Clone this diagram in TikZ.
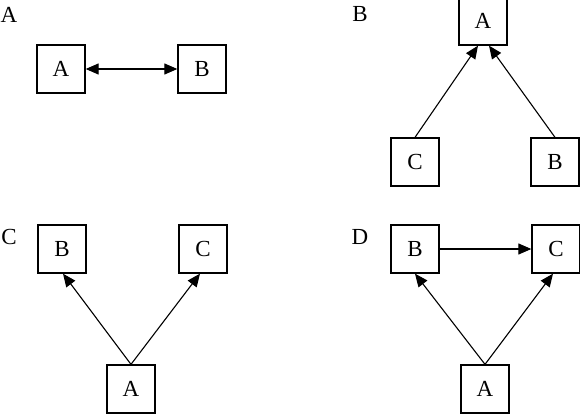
\documentclass[tikz,border=0pt]{standalone}
\usepackage{fontspec}
\setmainfont{Liberation Serif}
\usetikzlibrary{arrows.meta,calc}
\tikzset{
  box/.style={draw, line width=1.3pt, minimum width=48pt, minimum height=48pt, inner sep=0pt, font=\fontsize{23}{27}\selectfont},
  lbl/.style={inner sep=0pt, font=\fontsize{23}{27}\selectfont},
  conn/.style={line width=1.1pt, -{Triangle[length=13pt,width=11pt]}},
  conn2/.style={line width=1.1pt, {Triangle[length=13pt,width=11pt]}-{Triangle[length=13pt,width=11pt]}}
}
\begin{document}
\begin{tikzpicture}[x=1pt,y=-1pt]
\useasboundingbox (0,0) rectangle (580,414);
% Panel A
\node[lbl] (la) at (9,15) {A};
\node[box] (aA) at (61,69) {A};
\node[box] (aB) at (202,69) {B};
\draw[conn2] (aA) -- (aB);
% Panel B
\node[lbl] (lb) at (360,14) {B};
\node[box] (bA) at (483,21) {A};
\node[box] (bC) at (415,162) {C};
\node[box] (bB) at (555,162) {B};
\draw[conn] (bC.north) -- ($(bA.south)+(-5,0)$);
\draw[conn] (bB.north) -- ($(bA.south)+(6,0)$);
% Panel C
\node[lbl] (lc) at (9,237) {C};
\node[box] (cB) at (62,249) {B};
\node[box] (cC) at (203,249) {C};
\node[box] (cA) at (131,389) {A};
\draw[conn] (cA.north) -- ($(cB.south)+(1,0)$);
\draw[conn] (cA.north) -- ($(cC.south)+(-3,0)$);
% Panel D
\node[lbl] (ld) at (360,237) {D};
\node[box] (dB) at (415,249) {B};
\node[box] (dC) at (556,249) {C};
\node[box] (dA) at (485,389) {A};
\draw[conn] (dB) -- (dC);
\draw[conn] (dA.north) -- ($(dB.south)+(0,0)$);
\draw[conn] (dA.north) -- ($(dC.south)+(-3,0)$);
\end{tikzpicture}
\end{document}
